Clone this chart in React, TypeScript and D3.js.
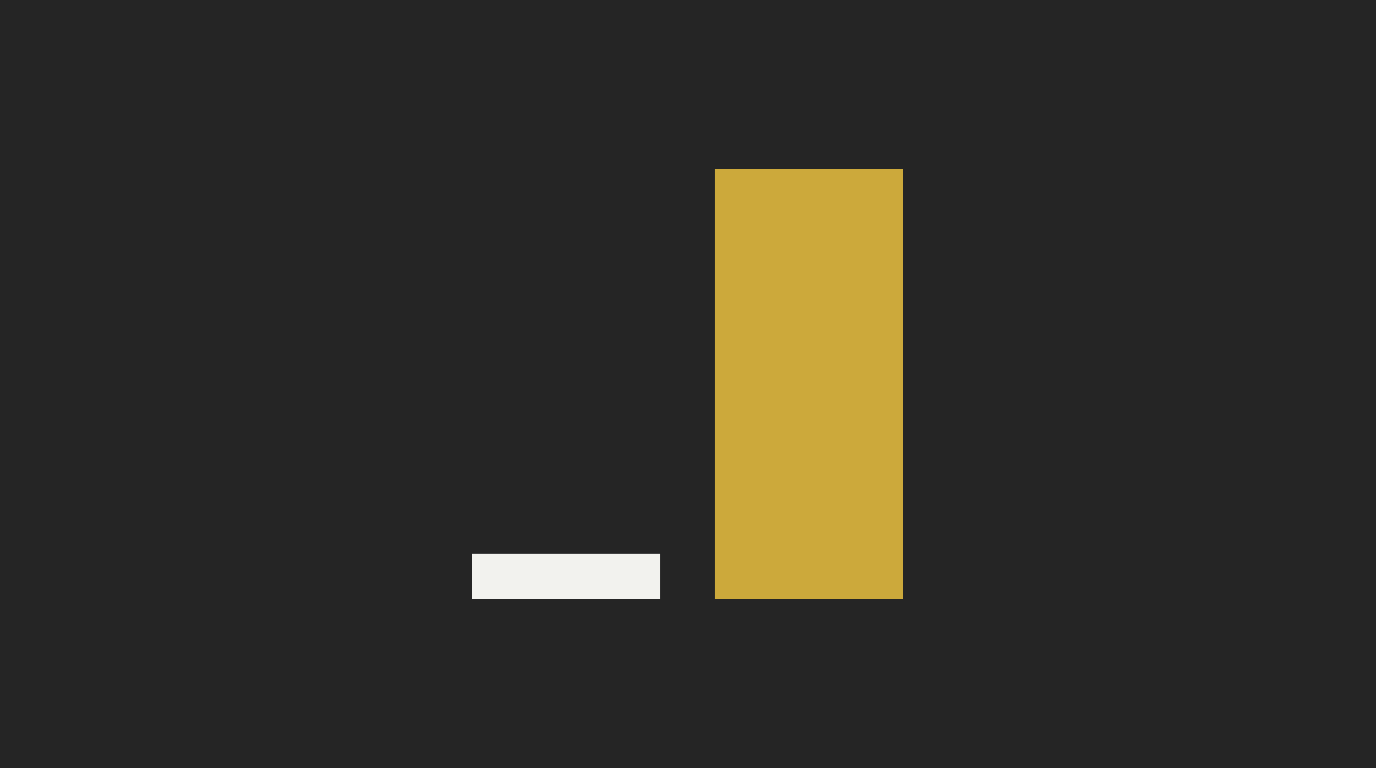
import React from "react";
import * as d3 from "d3";

const categories: string[] = ["A", "B"];
const values: number[] = [10.5, 100];
const colors: string[] = ["#f2f2ee", "#cca93b"];

const W = 1376;
const H = 768;

export default function App() {
  const x = d3.scaleBand<string>().domain(categories).range([472, 903]).paddingInner(0.226).paddingOuter(0);
  const y = d3.scaleLinear().domain([0, 100]).range([599, 169]);
  return (
    <svg
      width={W}
      height={H}
      style={{ position: "absolute", left: 0, top: 0, display: "block" }}
    >
      <rect x={0} y={0} width={W} height={H} fill="#252525" />
      {categories.map((c, i) => (
        <rect
          key={c}
          x={x(c)}
          y={y(values[i])}
          width={x.bandwidth()}
          height={y(0) - y(values[i])}
          fill={colors[i]}
        />
      ))}
    </svg>
  );
}
